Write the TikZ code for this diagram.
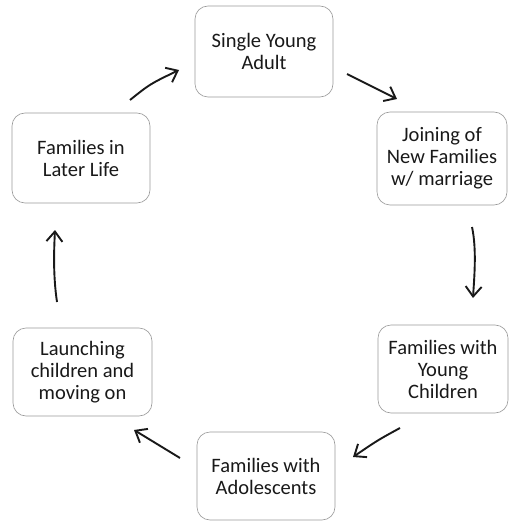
\documentclass[tikz,border=0pt]{standalone}
\usepackage{fontspec}
\setmainfont{Carlito}
\usetikzlibrary{arrows.meta}

\begin{document}
\begin{tikzpicture}[x=1pt,y=-1pt,
  stage/.style={draw=black!40, line width=0.6pt, rounded corners=13pt, fill=white,
    align=center, text=black!90, font=\fontsize{20.5}{22}\selectfont, inner sep=0pt},
  cycle/.style={-{Straight Barb[length=10pt,width=16pt]}, line width=1.9pt, black!90}]
\useasboundingbox (0,0) rectangle (508,521);
% stages of the family life cycle
\node[stage, minimum width=138pt, minimum height=91pt] (single) at (264,51.5) {Single Young\\Adult};
\node[stage, minimum width=130pt, minimum height=93pt] (joining) at (442,158.5) {Joining of\\New Families\\w/ marriage};
\node[stage, minimum width=130pt, minimum height=88pt] (young) at (443,369) {Families with\\Young\\Children};
\node[stage, minimum width=138pt, minimum height=88pt] (adol) at (266,476) {Families with\\Adolescents};
\node[stage, minimum width=139pt, minimum height=88pt] (launch) at (82.5,372) {Launching\\children and\\moving on};
\node[stage, minimum width=138pt, minimum height=90pt] (later) at (81,158) {Families in\\Later Life};
% arrow ends
\coordinate (a1s) at (130,100); \coordinate (a1e) at (179,70);
\coordinate (a2s) at (347,74);  \coordinate (a2e) at (397,99);
\coordinate (a3s) at (472,227); \coordinate (a3e) at (473,298);
\coordinate (a4s) at (400,428); \coordinate (a4e) at (353,457);
\coordinate (a5s) at (180,458); \coordinate (a5e) at (134,430);
\coordinate (a6s) at (57,302);  \coordinate (a6e) at (55,230);
% arrows
\draw[cycle] (a1s) .. controls (150,84) .. (a1e);
\draw[cycle] (a2s) -- (a2e);
\draw[cycle] (a3s) .. controls (477,250) and (474,280) .. (a3e);
\draw[cycle] (a4s) .. controls (378,440) .. (a4e);
\draw[cycle] (a5s) .. controls (158,444) .. (a5e);
\draw[cycle] (a6s) .. controls (53,275) and (54,250) .. (a6e);
\end{tikzpicture}
\end{document}
